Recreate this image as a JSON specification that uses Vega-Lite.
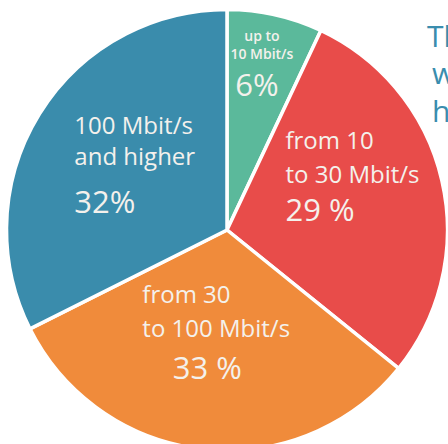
{
  "$schema": "https://vega.github.io/schema/vega-lite/v6.json",
  "width": 442,
  "height": 428,
  "autosize": "none",
  "padding": {"left": 6, "top": 16, "right": 0, "bottom": 0},
  "background": "white",
  "title": {
    "text": ["Th", "\u200b\u2009w", "\u200b\u2009h"],
    "anchor": "end",
    "frame": "group",
    "align": "left",
    "baseline": "alphabetic",
    "dx": -21,
    "dy": 149,
    "offset": 0,
    "fontSize": 30,
    "font": "Open Sans",
    "fontWeight": 400,
    "color": "#3A8DAE",
    "lineHeight": 37.5
  },
  "data": {
    "values": [
      {"idx": 1, "band": "up to 10 Mbit/s", "name": "up to\n10 Mbit/s", "pct": "6%", "share": 7.0},
      {"idx": 2, "band": "from 10 to 30 Mbit/s", "name": "from 10\nto 30 Mbit/s", "pct": "29 %", "share": 28.8},
      {"idx": 3, "band": "from 30 to 100 Mbit/s", "name": "from 30\nto 100 Mbit/s", "pct": "33 %", "share": 31.8},
      {"idx": 4, "band": "100 Mbit/s and higher", "name": "100 Mbit/s\nand higher", "pct": "32%", "share": 32.4}
    ]
  },
  "encoding": {
    "theta": {"field": "share", "type": "quantitative", "stack": true},
    "order": {"field": "idx", "type": "quantitative"}
  },
  "layer": [
    {
      "mark": {"type": "arc", "radius": 220.5, "stroke": "white", "strokeWidth": 3.5},
      "encoding": {
        "color": {
          "field": "band",
          "type": "nominal",
          "scale": {
            "domain": ["up to 10 Mbit/s", "from 10 to 30 Mbit/s", "from 30 to 100 Mbit/s", "100 Mbit/s and higher"],
            "range": ["#5BB99B", "#E84C4A", "#F08B3B", "#3A8CAC"]
          },
          "legend": null
        }
      }
    },
    {
      "mark": {"type": "text", "radius": 160, "align": "center", "baseline": "alphabetic", "dy": -33, "fontSize": 14, "fontWeight": 600, "lineHeight": 18, "lineBreak": "\n", "font": "Open Sans", "fill": "#F4F1EC"},
      "encoding": {"text": {"condition": {"test": "datum.idx === 1", "field": "name"}, "value": ""}}
    },
    {
      "mark": {"type": "text", "radius": 160, "align": "center", "baseline": "alphabetic", "dx": -5, "dy": 22, "fontSize": 31, "fontWeight": 400, "font": "Open Sans", "fill": "#F4F1EC"},
      "encoding": {"text": {"condition": {"test": "datum.idx === 1", "field": "pct"}, "value": ""}}
    },
    {
      "mark": {"type": "text", "radius": 60, "align": "left", "baseline": "alphabetic", "dy": -68, "fontSize": 24, "fontWeight": 400, "lineHeight": 34, "lineBreak": "\n", "font": "Open Sans", "fill": "#F4F1EC"},
      "encoding": {"text": {"condition": {"test": "datum.idx === 2", "field": "name"}, "value": ""}}
    },
    {
      "mark": {"type": "text", "radius": 60, "align": "left", "baseline": "alphabetic", "dy": 4, "fontSize": 31, "fontWeight": 400, "font": "Open Sans", "fill": "#F4F1EC"},
      "encoding": {"text": {"condition": {"test": "datum.idx === 2", "field": "pct"}, "value": ""}}
    },
    {
      "mark": {"type": "text", "radius": 100, "align": "left", "baseline": "alphabetic", "dx": -74, "dy": -26, "fontSize": 24, "fontWeight": 400, "lineHeight": 34, "lineBreak": "\n", "font": "Open Sans", "fill": "#F4F1EC"},
      "encoding": {"text": {"condition": {"test": "datum.idx === 3", "field": "name"}, "value": ""}}
    },
    {
      "mark": {"type": "text", "radius": 100, "align": "center", "baseline": "alphabetic", "dx": -9, "dy": 50, "fontSize": 31, "fontWeight": 400, "font": "Open Sans", "fill": "#F4F1EC"},
      "encoding": {"text": {"condition": {"test": "datum.idx === 3", "field": "pct"}, "value": ""}}
    },
    {
      "mark": {"type": "text", "radius": 150, "align": "left", "baseline": "alphabetic", "dx": -25, "dy": -17, "fontSize": 24, "fontWeight": 400, "lineHeight": 31, "lineBreak": "\n", "font": "Open Sans", "fill": "#F4F1EC"},
      "encoding": {"text": {"condition": {"test": "datum.idx === 4", "field": "name"}, "value": ""}}
    },
    {
      "mark": {"type": "text", "radius": 150, "align": "left", "baseline": "alphabetic", "dx": -25, "dy": 62, "fontSize": 31, "fontWeight": 400, "font": "Open Sans", "fill": "#F4F1EC"},
      "encoding": {"text": {"condition": {"test": "datum.idx === 4", "field": "pct"}, "value": ""}}
    }
  ]
}
